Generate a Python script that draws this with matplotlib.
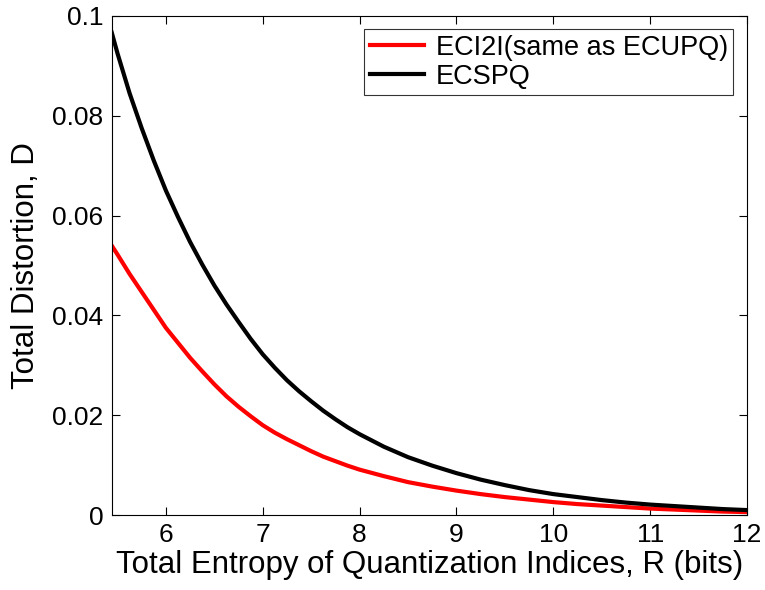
import matplotlib
matplotlib.use("Agg")
import matplotlib.pyplot as plt

plt.rcParams['font.family'] = ['Liberation Sans', 'DejaVu Sans']

R = [5.44, 5.5, 5.625, 5.75, 5.875, 6.0, 6.125, 6.25, 6.375, 6.5, 6.625, 6.75,
     6.875, 7.0, 7.125, 7.25, 7.375, 7.5, 7.625, 7.75, 7.875, 8.0, 8.25, 8.5,
     8.75, 9.0, 9.25, 9.5, 9.75, 10.0, 10.25, 10.5, 10.75, 11.0, 11.25, 11.5,
     11.75, 12.0]
D_eci2i = [0.054, 0.0522, 0.0483, 0.0447, 0.0411, 0.0375, 0.0345, 0.0315,
           0.0288, 0.0262, 0.0238, 0.0217, 0.0198, 0.0180, 0.0165, 0.0152,
           0.0140, 0.0128, 0.0117, 0.0108, 0.0099, 0.0091, 0.0078, 0.0066,
           0.0057, 0.0049, 0.0042, 0.0036, 0.0031, 0.0026, 0.0022, 0.0019,
           0.0016, 0.0013, 0.0011, 0.0009, 0.0007, 0.0006]
D_ecspq = [0.0967, 0.0925, 0.0845, 0.0775, 0.0710, 0.0650, 0.0597, 0.0547,
           0.0502, 0.0460, 0.0422, 0.0387, 0.0353, 0.0322, 0.0295, 0.0270,
           0.0248, 0.0228, 0.0209, 0.0192, 0.0176, 0.0162, 0.0137, 0.0116,
           0.0099, 0.0084, 0.0071, 0.0060, 0.0050, 0.0042, 0.0036, 0.0030,
           0.0025, 0.0021, 0.0018, 0.0015, 0.0012, 0.0010]
labels = ['ECI2I(same as ECUPQ)', 'ECSPQ']
xticks = [6, 7, 8, 9, 10, 11, 12]
yticks = [0, 0.02, 0.04, 0.06, 0.08, 0.1]
yticklabels = ['0', '0.02', '0.04', '0.06', '0.08', '0.1']

fig = plt.figure(figsize=(7.65, 5.9), dpi=100)
ax = fig.add_axes([0.146, 0.127, 0.8305, 0.846])
ax.plot(R, D_eci2i, color='#ff0000', lw=3, label=labels[0])
ax.plot(R, D_ecspq, color='black', lw=3, label=labels[1])
ax.set_xlim(5.44, 12)
ax.set_ylim(0, 0.1)
ax.set_xticks(xticks)
ax.set_xticklabels([str(t) for t in xticks])
ax.set_yticks(yticks)
ax.set_yticklabels(yticklabels)
ax.tick_params(direction='in', top=True, right=True, labelsize=19, length=6,
               width=0.8, pad=6)
for s in ax.spines.values():
    s.set_linewidth(0.8)
ax.set_xlabel('Total Entropy of Quantization Indices, R (bits)', fontsize=22.5, labelpad=2)
ax.set_ylabel('Total Distortion, D', fontsize=22.5, labelpad=8)
leg = ax.legend(loc='upper right', fontsize=19.5, frameon=True, fancybox=False,
                edgecolor='black', borderaxespad=0.5, handlelength=2.0,
                labelspacing=0.1, borderpad=0.2, handletextpad=0.45)
leg.get_frame().set_linewidth(0.8)
fig.savefig('out.png', dpi=100)
